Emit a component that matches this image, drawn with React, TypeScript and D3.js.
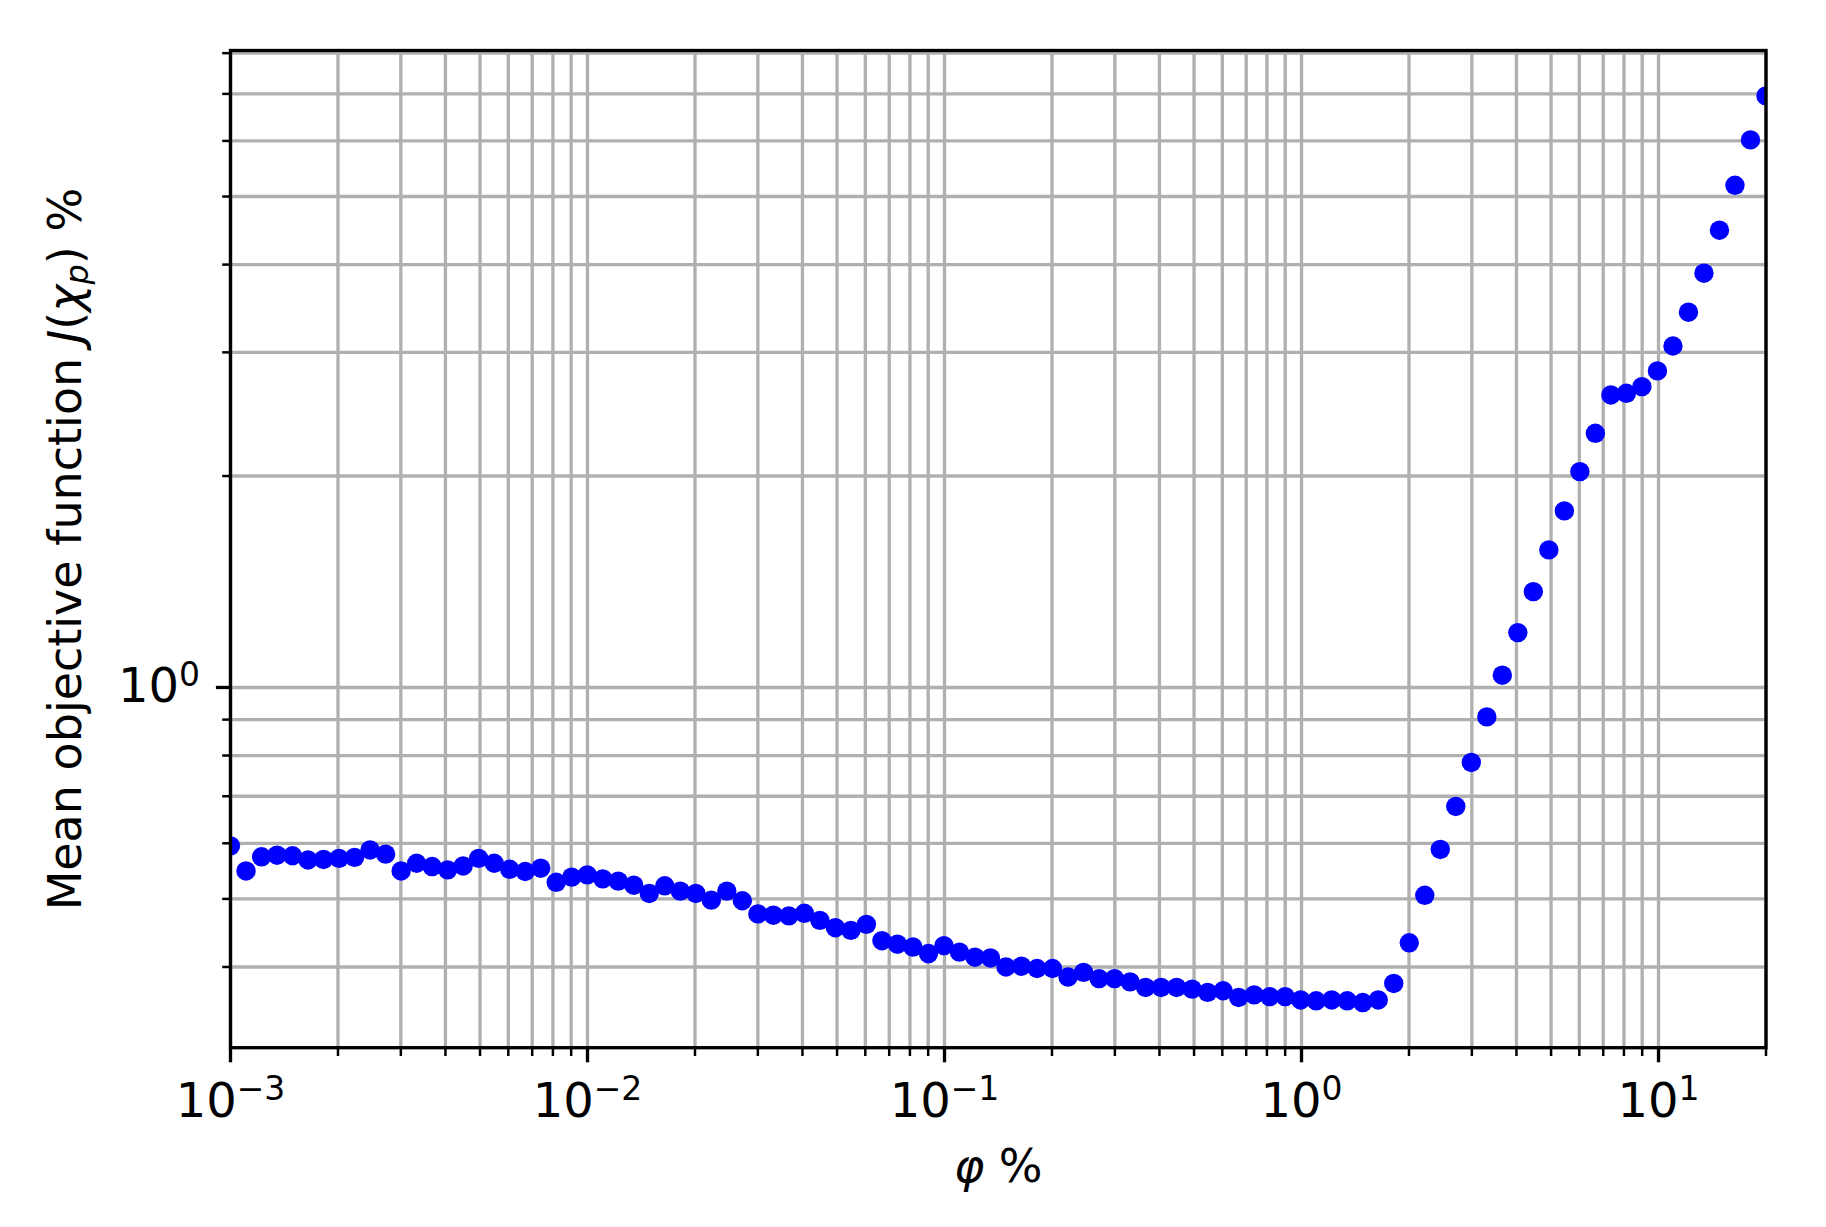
import React, { useRef, useEffect } from "react";
import * as d3 from "d3";

// phi values (%) along the x axis, log spaced
const phiValues = [
  0.001, 0.0011052, 0.0012215, 0.00135, 0.001492, 0.001649, 0.0018225, 0.0020143, 0.0022262, 0.0024604,
  0.0027193, 0.0030053, 0.0033215, 0.003671, 0.0040573, 0.0044841, 0.0049559, 0.0054774, 0.0060537, 0.0066906,
  0.0073946, 0.0081726, 0.0090325, 0.0099823, 0.011033, 0.012193, 0.013476, 0.014894, 0.016461, 0.018193,
  0.020107, 0.022222, 0.02456, 0.027144, 0.03, 0.033156, 0.036644, 0.0405, 0.044761, 0.04947,
  0.054675, 0.060427, 0.066785, 0.073811, 0.081577, 0.09016, 0.099646, 0.11013, 0.12171, 0.13452,
  0.14867, 0.16431, 0.1816, 0.20071, 0.22182, 0.24516, 0.27095, 0.29946, 0.33097, 0.36579,
  0.40428, 0.44681, 0.49382, 0.54577, 0.60319, 0.66665, 0.73679, 0.8143, 0.89997, 0.99469,
  1.0993, 1.215, 1.3428, 1.4841, 1.6402, 1.8128, 2.0035, 2.2143, 2.4472, 2.7047,
  2.9893, 3.3037, 3.6513, 4.0354, 4.46, 4.9292, 5.4478, 6.0209, 6.6543, 7.3544,
  8.1281, 8.9833, 9.9293, 10.974, 12.128, 13.404, 14.814, 16.373, 18.095, 20.0,
];

// mean objective function J(chi_p) %
const objectiveValues = [
  0.595, 0.548, 0.574, 0.577, 0.576, 0.568, 0.569, 0.571, 0.573, 0.587,
  0.579, 0.548, 0.562, 0.556, 0.55, 0.557, 0.571, 0.562, 0.551, 0.547,
  0.553, 0.528, 0.537, 0.541, 0.534, 0.53, 0.523, 0.509, 0.522, 0.513,
  0.509, 0.498, 0.513, 0.497, 0.476, 0.474, 0.473, 0.477, 0.466, 0.455,
  0.451, 0.46, 0.436, 0.431, 0.427, 0.418, 0.429, 0.42, 0.413, 0.412,
  0.4, 0.401, 0.398, 0.398, 0.387, 0.393, 0.385, 0.385, 0.381, 0.374,
  0.374, 0.374, 0.372, 0.368, 0.37, 0.362, 0.365, 0.363, 0.363, 0.359,
  0.358, 0.359, 0.358, 0.356, 0.359, 0.379, 0.433, 0.506, 0.588, 0.677,
  0.782, 0.908, 1.041, 1.197, 1.369, 1.57, 1.784, 2.029, 2.301, 2.609,
  2.623, 2.681, 2.823, 3.063, 3.422, 3.889, 4.477, 5.188, 6.02, 6.954,
];

const xTickLabels = [
  { v: 1e-3, exp: "\u22123" },
  { v: 1e-2, exp: "\u22122" },
  { v: 1e-1, exp: "\u22121" },
  { v: 1, exp: "0" },
  { v: 10, exp: "1" },
];
const yTickLabels = [{ v: 1, exp: "0" }];

const FONT = "DejaVu Sans";

const App = () => {
  const ref = useRef<SVGSVGElement>(null);

  useEffect(() => {
    const svg = d3.select(ref.current);
    svg.selectAll("*").remove();

    const left = 230.5, right = 1766, top = 50.5, bottom = 1047.7;
    const lw = 3.33;

    const x = d3.scaleLog().domain([1e-3, 20]).range([left, right]);
    const y = d3.scaleLog().domain([0.307, 8.07]).range([bottom, top]);

    const isMajor = (t: number) =>
      Math.abs(Math.log10(t) - Math.round(Math.log10(t))) < 1e-6;

    const xt = x.ticks().filter((t) => t >= 1e-3 * 0.999 && t <= 20 * 1.001);
    const yt = y.ticks().filter((t) => t >= 0.307 && t <= 8.07);

    svg.append("rect").attr("width", 1826).attr("height", 1227).attr("fill", "#fff");

    svg.append("defs").append("clipPath").attr("id", "plotclip")
      .append("rect")
      .attr("x", left).attr("y", top)
      .attr("width", right - left).attr("height", bottom - top);

    // grid
    const grid = svg.append("g").attr("stroke", "#b0b0b0").attr("stroke-width", lw);
    grid.selectAll(".gx").data(xt).join("line")
      .attr("x1", (d) => x(d)).attr("x2", (d) => x(d))
      .attr("y1", top).attr("y2", bottom);
    grid.selectAll(".gy").data(yt).join("line")
      .attr("x1", left).attr("x2", right)
      .attr("y1", (d) => y(d)).attr("y2", (d) => y(d));

    // points
    svg.append("g").attr("clip-path", "url(#plotclip)")
      .selectAll("circle")
      .data(phiValues.map((p, i) => [p, objectiveValues[i]]))
      .join("circle")
      .attr("cx", (d) => x(d[0]))
      .attr("cy", (d) => y(d[1]))
      .attr("r", 9.7)
      .attr("fill", "#0000ff");

    // spines
    svg.append("rect")
      .attr("x", left).attr("y", top)
      .attr("width", right - left).attr("height", bottom - top)
      .attr("fill", "none").attr("stroke", "#000").attr("stroke-width", lw);

    // ticks
    const ticks = svg.append("g").attr("stroke", "#000");
    ticks.selectAll(".tx").data(xt).join("line")
      .attr("x1", (d) => x(d)).attr("x2", (d) => x(d))
      .attr("y1", bottom)
      .attr("y2", (d) => bottom + (isMajor(d) ? 14.6 : 8.3))
      .attr("stroke-width", (d) => (isMajor(d) ? lw : 2.5));
    ticks.selectAll(".ty").data(yt).join("line")
      .attr("y1", (d) => y(d)).attr("y2", (d) => y(d))
      .attr("x1", left)
      .attr("x2", (d) => left - (isMajor(d) ? 14.6 : 8.3))
      .attr("stroke-width", (d) => (isMajor(d) ? lw : 2.5));

    // tick labels
    const xl = svg.append("g").attr("font-family", FONT).attr("fill", "#000")
      .selectAll("text").data(xTickLabels).join("text")
      .attr("x", (d) => x(d.v)).attr("y", 1116.5)
      .attr("text-anchor", "middle").attr("font-size", 48);
    xl.append("tspan").text("10");
    xl.append("tspan").attr("font-size", 33).attr("dy", -16.7).text((d) => d.exp);

    const yl = svg.append("g").attr("font-family", FONT).attr("fill", "#000")
      .selectAll("text").data(yTickLabels).join("text")
      .attr("x", 200).attr("y", (d) => y(d.v) + 15)
      .attr("text-anchor", "end").attr("font-size", 48);
    yl.append("tspan").text("10");
    yl.append("tspan").attr("font-size", 33).attr("dy", -16.7).text((d) => d.exp);

    // axis labels
    const xlab = svg.append("text")
      .attr("x", (left + right) / 2).attr("y", 1182)
      .attr("text-anchor", "middle").attr("font-family", FONT).attr("font-size", 46);
    xlab.append("tspan").attr("font-style", "italic").text("\u03c6");
    xlab.append("tspan").text(" %");

    const ylab = svg.append("text")
      .attr("transform", `translate(81, ${(top + bottom) / 2}) rotate(-90)`)
      .attr("text-anchor", "middle").attr("font-family", FONT).attr("font-size", 46);
    ylab.append("tspan").text("Mean objective function ");
    ylab.append("tspan").attr("font-style", "italic").text("J");
    ylab.append("tspan").text("(");
    ylab.append("tspan").attr("font-style", "italic").text("\u03c7");
    ylab.append("tspan").attr("font-style", "italic").attr("font-size", 32).attr("dy", 7).text("p");
    ylab.append("tspan").attr("dy", -7).text(")");
    ylab.append("tspan").text(" %");
  }, []);

  return (
    <svg
      ref={ref}
      width={1826}
      height={1227}
      style={{ position: "absolute", left: 0, top: 0, display: "block" }}
    />
  );
};

export default App;
